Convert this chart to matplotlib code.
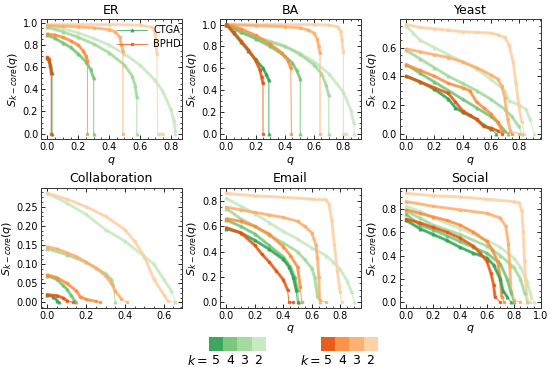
import matplotlib
matplotlib.use('Agg')
import matplotlib.pyplot as plt
from matplotlib.colors import ListedColormap
from matplotlib.lines import Line2D
from matplotlib.ticker import MultipleLocator, AutoMinorLocator

# couleurs (k = 5, 4, 3, 2)
greens = ['#31a354', '#74c476', '#a1d99b', '#c7e9c0']
oranges = ['#e6550d', '#fd8d3c', '#fdae6b', '#fdd0a2']
k_labels = ['5', '4', '3', '2']

# chaque liste : courbes k=5, 4, 3, 2 ; points (q, S)
ER_CTGA = [
    [(0, 0.68), (0.01, 0.66), (0.02, 0.62), (0.03, 0.55), (0.03, 0.0)],
    [(0, 0.89), (0.05, 0.86), (0.1, 0.82), (0.15, 0.78), (0.2, 0.72), (0.25, 0.65), (0.28, 0.58), (0.3, 0.5), (0.3, 0.0)],
    [(0, 0.96), (0.1, 0.92), (0.2, 0.87), (0.3, 0.81), (0.4, 0.73), (0.5, 0.62), (0.55, 0.52), (0.57, 0.43), (0.58, 0.33), (0.58, 0.0)],
    [(0, 0.97), (0.1, 0.95), (0.2, 0.91), (0.3, 0.86), (0.4, 0.8), (0.5, 0.72), (0.6, 0.62), (0.7, 0.48), (0.75, 0.38), (0.8, 0.22), (0.82, 0.12), (0.83, 0.02), (0.83, 0.0)],
]
ER_BPHD = [
    [(0, 0.69), (0.01, 0.67), (0.02, 0.6), (0.025, 0.55), (0.025, 0.0)],
    [(0, 0.9), (0.05, 0.89), (0.1, 0.87), (0.15, 0.84), (0.2, 0.8), (0.23, 0.75), (0.25, 0.7), (0.26, 0.66), (0.26, 0.0)],
    [(0, 0.975), (0.1, 0.97), (0.2, 0.965), (0.3, 0.955), (0.4, 0.94), (0.44, 0.92), (0.47, 0.87), (0.48, 0.8), (0.49, 0.75), (0.49, 0.0)],
    [(0, 0.985), (0.2, 0.985), (0.4, 0.985), (0.6, 0.98), (0.68, 0.96), (0.7, 0.9), (0.71, 0.72), (0.715, 0.0), (0.73, 0.0), (0.75, 0.0)],
]
BA_CTGA = [
    [(0, 1.0), (0.05, 0.92), (0.1, 0.84), (0.15, 0.76), (0.2, 0.68), (0.25, 0.6), (0.27, 0.55), (0.29, 0.49), (0.29, 0.0)],
    [(0, 1.0), (0.1, 0.93), (0.2, 0.87), (0.3, 0.8), (0.4, 0.71), (0.45, 0.65), (0.48, 0.58), (0.505, 0.5), (0.505, 0.0)],
    [(0, 1.0), (0.1, 0.93), (0.2, 0.88), (0.3, 0.84), (0.4, 0.8), (0.5, 0.73), (0.6, 0.63), (0.65, 0.55), (0.68, 0.45), (0.7, 0.35), (0.7, 0.0)],
    [(0, 1.0), (0.1, 0.94), (0.2, 0.89), (0.3, 0.85), (0.4, 0.8), (0.5, 0.74), (0.6, 0.66), (0.7, 0.55), (0.8, 0.38), (0.85, 0.22), (0.87, 0.1), (0.875, 0.0)],
]
BA_BPHD = [
    [(0, 1.0), (0.05, 0.93), (0.1, 0.85), (0.15, 0.77), (0.2, 0.67), (0.23, 0.58), (0.24, 0.52), (0.25, 0.46), (0.25, 0.0)],
    [(0, 1.0), (0.1, 0.96), (0.2, 0.9), (0.3, 0.82), (0.38, 0.74), (0.42, 0.67), (0.44, 0.6), (0.445, 0.0)],
    [(0, 1.0), (0.2, 0.99), (0.4, 0.98), (0.5, 0.97), (0.56, 0.95), (0.6, 0.92), (0.62, 0.87), (0.63, 0.8), (0.64, 0.74), (0.64, 0.0)],
    [(0, 1.0), (0.3, 1.0), (0.6, 1.0), (0.7, 0.995), (0.76, 0.98), (0.78, 0.94), (0.79, 0.86), (0.8, 0.75), (0.8, 0.0), (0.82, 0.0)],
]
YEAST_CTGA = [
    [(0, 0.4), (0.1, 0.36), (0.2, 0.31), (0.3, 0.24), (0.35, 0.18), (0.4, 0.15), (0.5, 0.1), (0.55, 0.06), (0.6, 0.03), (0.64, 0.0)],
    [(0, 0.48), (0.1, 0.42), (0.2, 0.36), (0.3, 0.3), (0.4, 0.24), (0.5, 0.18), (0.6, 0.12), (0.65, 0.08), (0.7, 0.02), (0.72, 0.0)],
    [(0, 0.58), (0.1, 0.52), (0.2, 0.46), (0.3, 0.4), (0.4, 0.35), (0.5, 0.3), (0.6, 0.24), (0.7, 0.17), (0.75, 0.12), (0.8, 0.05), (0.82, 0.0)],
    [(0, 0.75), (0.05, 0.7), (0.1, 0.65), (0.2, 0.6), (0.3, 0.55), (0.4, 0.5), (0.5, 0.45), (0.6, 0.38), (0.7, 0.3), (0.73, 0.23), (0.8, 0.2), (0.85, 0.17), (0.88, 0.1), (0.91, 0.0)],
]
YEAST_BPHD = [
    [(0, 0.4), (0.1, 0.36), (0.2, 0.32), (0.3, 0.28), (0.35, 0.22), (0.4, 0.16), (0.45, 0.13), (0.5, 0.1), (0.55, 0.05), (0.6, 0.04), (0.65, 0.02), (0.68, 0.0)],
    [(0, 0.48), (0.1, 0.44), (0.2, 0.4), (0.3, 0.35), (0.4, 0.32), (0.45, 0.3), (0.5, 0.22), (0.55, 0.18), (0.6, 0.14), (0.65, 0.08), (0.68, 0.02), (0.75, 0.0)],
    [(0, 0.59), (0.1, 0.57), (0.2, 0.55), (0.3, 0.53), (0.4, 0.5), (0.5, 0.46), (0.6, 0.41), (0.65, 0.38), (0.68, 0.33), (0.7, 0.25), (0.72, 0.1), (0.74, 0.02), (0.8, 0.0)],
    [(0, 0.76), (0.1, 0.74), (0.2, 0.73), (0.3, 0.72), (0.4, 0.71), (0.5, 0.705), (0.6, 0.7), (0.65, 0.69), (0.7, 0.67), (0.73, 0.62), (0.76, 0.5), (0.78, 0.35), (0.8, 0.2), (0.82, 0.08), (0.84, 0.0)],
]
COLLAB_CTGA = [
    [(0, 0.02), (0.03, 0.015), (0.05, 0.005), (0.06, 0.0)],
    [(0, 0.07), (0.05, 0.06), (0.08, 0.045), (0.1, 0.035), (0.12, 0.02), (0.14, 0.005), (0.15, 0.0)],
    [(0, 0.14), (0.1, 0.125), (0.2, 0.105), (0.25, 0.09), (0.3, 0.075), (0.33, 0.06), (0.34, 0.045), (0.35, 0.0)],
    [(0, 0.285), (0.1, 0.26), (0.2, 0.23), (0.3, 0.19), (0.4, 0.16), (0.5, 0.12), (0.55, 0.1), (0.6, 0.06), (0.64, 0.03), (0.66, 0.0)],
]
COLLAB_BPHD = [
    [(0, 0.02), (0.05, 0.018), (0.08, 0.012), (0.1, 0.005), (0.13, 0.0)],
    [(0, 0.072), (0.05, 0.065), (0.1, 0.05), (0.15, 0.03), (0.17, 0.015), (0.2, 0.008), (0.25, 0.003), (0.27, 0.0)],
    [(0, 0.145), (0.05, 0.14), (0.1, 0.13), (0.15, 0.12), (0.2, 0.105), (0.25, 0.09), (0.3, 0.07), (0.33, 0.05), (0.35, 0.03), (0.38, 0.01), (0.41, 0.0)],
    [(0, 0.285), (0.1, 0.27), (0.2, 0.25), (0.3, 0.225), (0.4, 0.19), (0.45, 0.16), (0.5, 0.12), (0.55, 0.06), (0.6, 0.02), (0.62, 0.005), (0.66, 0.0)],
]
EMAIL_CTGA = [
    [(0, 0.58), (0.1, 0.55), (0.2, 0.49), (0.3, 0.42), (0.4, 0.34), (0.44, 0.28), (0.47, 0.2), (0.49, 0.1), (0.5, 0.0)],
    [(0, 0.65), (0.1, 0.6), (0.2, 0.54), (0.3, 0.45), (0.4, 0.36), (0.45, 0.28), (0.48, 0.2), (0.5, 0.1), (0.51, 0.0)],
    [(0, 0.74), (0.1, 0.66), (0.2, 0.6), (0.3, 0.53), (0.4, 0.47), (0.5, 0.4), (0.55, 0.34), (0.6, 0.27), (0.62, 0.2), (0.64, 0.05), (0.66, 0.0)],
    [(0, 0.82), (0.1, 0.76), (0.2, 0.7), (0.3, 0.63), (0.4, 0.56), (0.5, 0.5), (0.6, 0.43), (0.7, 0.37), (0.75, 0.32), (0.8, 0.26), (0.85, 0.17), (0.88, 0.08), (0.9, 0.0)],
]
EMAIL_BPHD = [
    [(0, 0.59), (0.1, 0.55), (0.2, 0.45), (0.25, 0.38), (0.3, 0.32), (0.35, 0.25), (0.4, 0.18), (0.43, 0.1), (0.44, 0.0), (0.47, 0.0)],
    [(0, 0.66), (0.1, 0.64), (0.2, 0.6), (0.3, 0.54), (0.4, 0.44), (0.45, 0.37), (0.5, 0.28), (0.52, 0.12), (0.53, 0.0)],
    [(0, 0.75), (0.1, 0.73), (0.2, 0.71), (0.3, 0.69), (0.4, 0.67), (0.5, 0.64), (0.55, 0.6), (0.6, 0.55), (0.63, 0.45), (0.64, 0.35), (0.65, 0.2), (0.655, 0.02), (0.7, 0.0)],
    [(0, 0.86), (0.2, 0.84), (0.4, 0.83), (0.6, 0.815), (0.7, 0.81), (0.72, 0.78), (0.74, 0.65), (0.76, 0.45), (0.78, 0.25), (0.8, 0.08), (0.81, 0.0)],
]
SOCIAL_CTGA = [
    [(0, 0.7), (0.1, 0.63), (0.2, 0.58), (0.3, 0.53), (0.4, 0.47), (0.5, 0.42), (0.6, 0.38), (0.65, 0.32), (0.7, 0.2), (0.72, 0.1), (0.75, 0.05), (0.78, 0.0)],
    [(0, 0.75), (0.1, 0.66), (0.2, 0.62), (0.3, 0.57), (0.4, 0.52), (0.5, 0.47), (0.6, 0.42), (0.7, 0.33), (0.75, 0.2), (0.78, 0.08), (0.8, 0.0)],
    [(0, 0.78), (0.1, 0.72), (0.2, 0.66), (0.4, 0.58), (0.6, 0.48), (0.7, 0.4), (0.8, 0.3), (0.85, 0.2), (0.88, 0.08), (0.9, 0.0)],
    [(0, 0.82), (0.1, 0.78), (0.2, 0.72), (0.4, 0.63), (0.6, 0.53), (0.7, 0.47), (0.8, 0.38), (0.85, 0.3), (0.9, 0.18), (0.93, 0.05), (0.95, 0.0)],
]
SOCIAL_BPHD = [
    [(0, 0.71), (0.1, 0.68), (0.2, 0.64), (0.3, 0.6), (0.4, 0.55), (0.5, 0.48), (0.55, 0.42), (0.6, 0.35), (0.63, 0.25), (0.65, 0.15), (0.66, 0.05), (0.7, 0.0)],
    [(0, 0.79), (0.1, 0.76), (0.2, 0.73), (0.3, 0.7), (0.4, 0.66), (0.5, 0.6), (0.6, 0.52), (0.64, 0.45), (0.68, 0.35), (0.7, 0.2), (0.71, 0.05), (0.73, 0.0)],
    [(0, 0.86), (0.2, 0.82), (0.4, 0.79), (0.6, 0.76), (0.7, 0.72), (0.74, 0.65), (0.76, 0.5), (0.77, 0.3), (0.78, 0.1), (0.8, 0.02), (0.85, 0.0)],
    [(0, 0.93), (0.2, 0.91), (0.4, 0.9), (0.6, 0.88), (0.8, 0.86), (0.84, 0.85), (0.86, 0.78), (0.87, 0.6), (0.88, 0.35), (0.89, 0.15), (0.9, 0.02), (0.92, 0.0)],
]

panels = [
    ('ER', ER_CTGA, ER_BPHD, 0.2),
    ('BA', BA_CTGA, BA_BPHD, 0.2),
    ('Yeast', YEAST_CTGA, YEAST_BPHD, 0.2),
    ('Collaboration', COLLAB_CTGA, COLLAB_BPHD, 0.05),
    ('Email', EMAIL_CTGA, EMAIL_BPHD, 0.2),
    ('Social', SOCIAL_CTGA, SOCIAL_BPHD, 0.2),
]

plt.rcParams.update({
    'font.size': 7,
    'xtick.direction': 'in', 'ytick.direction': 'in',
    'xtick.top': True, 'ytick.right': True,
    'xtick.minor.visible': True, 'ytick.minor.visible': True,
    'xtick.major.size': 3, 'ytick.major.size': 3,
    'xtick.minor.size': 1.5, 'ytick.minor.size': 1.5,
    'xtick.major.width': 0.6, 'ytick.major.width': 0.6,
    'xtick.minor.width': 0.5, 'ytick.minor.width': 0.5,
    'axes.linewidth': 0.7,
    'axes.edgecolor': '#333333',
})

fig = plt.figure(figsize=(5.5, 3.67), dpi=100)

lefts = [0.0745, 0.4, 0.727]
bottoms = [0.621, 0.161]
w, h = 0.256, 0.327


def trace(ax, curve, color, marker):
    q = [p[0] for p in curve]
    s = [p[1] for p in curve]
    # partie dense (S > 0) en trait épais
    qd = [a for a, b in zip(q, s) if b > 0]
    sd = [b for b in s if b > 0]
    ax.plot(qd, sd, color=color, lw=2.2, alpha=0.75, solid_capstyle='round')
    ax.plot(q, s, color=color, lw=0.8, alpha=0.75, marker=marker, ms=2)


for i, (nom, ctga, bphd, pas_y) in enumerate(panels):
    ax = fig.add_axes([lefts[i % 3], bottoms[i // 3], w, h])
    # on trace du plus clair au plus foncé
    for j in range(3, -1, -1):
        trace(ax, ctga[j], greens[j], '^')
        trace(ax, bphd[j], oranges[j], 's')
    if nom == 'Social':
        ax.set_xlim(right=1.0)
    ax.xaxis.set_major_locator(MultipleLocator(0.2))
    ax.yaxis.set_major_locator(MultipleLocator(pas_y))
    ax.xaxis.set_minor_locator(AutoMinorLocator(4))
    ax.yaxis.set_minor_locator(AutoMinorLocator(4))
    ax.set_title(nom, fontsize=9, pad=4)
    ax.set_ylabel(r'$S_{k-core}(q)$', fontsize=8, labelpad=2)
    ax.tick_params(labelsize=7, pad=2)
    if nom != 'Collaboration':
        ax.set_xlabel(r'$q$', fontsize=8, labelpad=2)
    if nom == 'ER':
        handles = [Line2D([], [], color=greens[0], marker='^', ms=2, lw=0.8, alpha=0.75),
                   Line2D([], [], color=oranges[0], marker='s', ms=2, lw=0.8, alpha=0.75)]
        ax.legend(handles, ['CTGA', 'BPHD'], loc='upper right', frameon=False,
                  fontsize=7, handlelength=3.0, handletextpad=0.7,
                  borderpad=0, borderaxespad=0, labelspacing=0.45,
                  bbox_to_anchor=(0.995, 0.95))

# barres de couleur pour k
for left, cols in [(0.38, greens), (0.584, oranges)]:
    cax = fig.add_axes([left, 0.0436, 0.102, 0.038])
    cax.imshow([list(range(4))], cmap=ListedColormap(cols), aspect='auto', alpha=0.95)
    cax.set_xticks(range(4))
    cax.set_xticklabels(k_labels, fontsize=9)
    cax.set_yticks([])
    cax.minorticks_off()
    cax.tick_params(length=0, pad=2, top=False, right=False)
    for sp in cax.spines.values():
        sp.set_visible(False)
    cax.annotate(r'$k=$', xy=(-0.55, 0), xycoords=('data', 'axes fraction'),
                 xytext=(0, -2), textcoords='offset points',
                 ha='right', va='top', fontsize=9)

plt.savefig('out.png', dpi=100)
